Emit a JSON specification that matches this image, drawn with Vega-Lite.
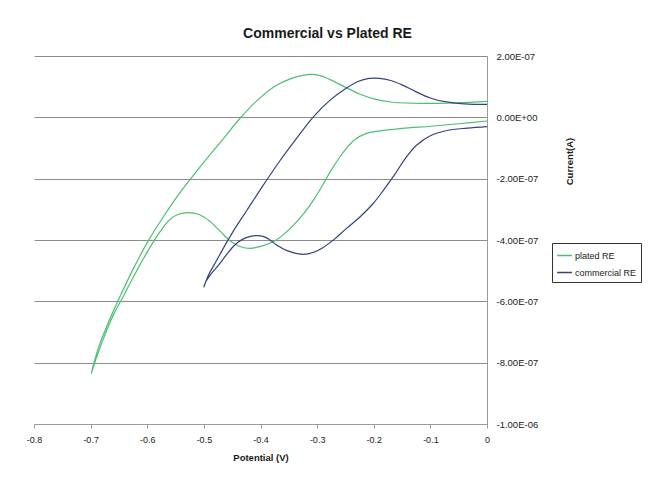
{
  "$schema": "https://vega.github.io/schema/vega-lite/v6.json",
  "width": 453,
  "height": 368,
  "autosize": {"type": "none"},
  "padding": {"left": 34, "top": 56, "right": 163, "bottom": 63},
  "background": "white",
  "title": {
    "text": "Commercial vs Plated RE",
    "font": "Liberation Sans",
    "fontSize": 14,
    "fontWeight": "bold",
    "color": "#1a1a1a",
    "anchor": "middle",
    "frame": "group",
    "dx": 67,
    "offset": 10
  },
  "data": {
    "values": [
      {"s": "plated RE", "i": 1, "E": 0, "I": 5.2e-8},
      {"s": "plated RE", "i": 2, "E": -0.071, "I": 4.6e-8},
      {"s": "plated RE", "i": 3, "E": -0.131, "I": 4.6e-8},
      {"s": "plated RE", "i": 4, "E": -0.170, "I": 5.0e-8},
      {"s": "plated RE", "i": 5, "E": -0.200, "I": 6.0e-8},
      {"s": "plated RE", "i": 6, "E": -0.225, "I": 7.6e-8},
      {"s": "plated RE", "i": 7, "E": -0.250, "I": 9.8e-8},
      {"s": "plated RE", "i": 8, "E": -0.277, "I": 1.23e-7},
      {"s": "plated RE", "i": 9, "E": -0.295, "I": 1.36e-7},
      {"s": "plated RE", "i": 10, "E": -0.310, "I": 1.40e-7},
      {"s": "plated RE", "i": 11, "E": -0.325, "I": 1.37e-7},
      {"s": "plated RE", "i": 12, "E": -0.345, "I": 1.27e-7},
      {"s": "plated RE", "i": 13, "E": -0.370, "I": 1.06e-7},
      {"s": "plated RE", "i": 14, "E": -0.400, "I": 6.5e-8},
      {"s": "plated RE", "i": 15, "E": -0.436, "I": -3e-9},
      {"s": "plated RE", "i": 16, "E": -0.471, "I": -8.2e-8},
      {"s": "plated RE", "i": 17, "E": -0.506, "I": -1.60e-7},
      {"s": "plated RE", "i": 18, "E": -0.540, "I": -2.40e-7},
      {"s": "plated RE", "i": 19, "E": -0.570, "I": -3.20e-7},
      {"s": "plated RE", "i": 20, "E": -0.598, "I": -4.02e-7},
      {"s": "plated RE", "i": 21, "E": -0.625, "I": -4.95e-7},
      {"s": "plated RE", "i": 22, "E": -0.651, "I": -5.96e-7},
      {"s": "plated RE", "i": 23, "E": -0.670, "I": -6.75e-7},
      {"s": "plated RE", "i": 24, "E": -0.686, "I": -7.5e-7},
      {"s": "plated RE", "i": 25, "E": -0.699, "I": -8.36e-7},
      {"s": "plated RE", "i": 26, "E": -0.690, "I": -7.85e-7},
      {"s": "plated RE", "i": 27, "E": -0.677, "I": -7.2e-7},
      {"s": "plated RE", "i": 28, "E": -0.660, "I": -6.45e-7},
      {"s": "plated RE", "i": 29, "E": -0.644, "I": -5.9e-7},
      {"s": "plated RE", "i": 30, "E": -0.620, "I": -5.05e-7},
      {"s": "plated RE", "i": 31, "E": -0.598, "I": -4.33e-7},
      {"s": "plated RE", "i": 32, "E": -0.577, "I": -3.72e-7},
      {"s": "plated RE", "i": 33, "E": -0.560, "I": -3.33e-7},
      {"s": "plated RE", "i": 34, "E": -0.545, "I": -3.16e-7},
      {"s": "plated RE", "i": 35, "E": -0.528, "I": -3.11e-7},
      {"s": "plated RE", "i": 36, "E": -0.510, "I": -3.16e-7},
      {"s": "plated RE", "i": 37, "E": -0.490, "I": -3.38e-7},
      {"s": "plated RE", "i": 38, "E": -0.471, "I": -3.72e-7},
      {"s": "plated RE", "i": 39, "E": -0.452, "I": -4.05e-7},
      {"s": "plated RE", "i": 40, "E": -0.435, "I": -4.22e-7},
      {"s": "plated RE", "i": 41, "E": -0.418, "I": -4.27e-7},
      {"s": "plated RE", "i": 42, "E": -0.398, "I": -4.20e-7},
      {"s": "plated RE", "i": 43, "E": -0.377, "I": -4.05e-7},
      {"s": "plated RE", "i": 44, "E": -0.358, "I": -3.80e-7},
      {"s": "plated RE", "i": 45, "E": -0.340, "I": -3.48e-7},
      {"s": "plated RE", "i": 46, "E": -0.322, "I": -3.10e-7},
      {"s": "plated RE", "i": 47, "E": -0.305, "I": -2.66e-7},
      {"s": "plated RE", "i": 48, "E": -0.290, "I": -2.20e-7},
      {"s": "plated RE", "i": 49, "E": -0.277, "I": -1.78e-7},
      {"s": "plated RE", "i": 50, "E": -0.262, "I": -1.35e-7},
      {"s": "plated RE", "i": 51, "E": -0.247, "I": -9.8e-8},
      {"s": "plated RE", "i": 52, "E": -0.233, "I": -7.2e-8},
      {"s": "plated RE", "i": 53, "E": -0.215, "I": -5.4e-8},
      {"s": "plated RE", "i": 54, "E": -0.189, "I": -4.4e-8},
      {"s": "plated RE", "i": 55, "E": -0.150, "I": -3.6e-8},
      {"s": "plated RE", "i": 56, "E": -0.100, "I": -2.9e-8},
      {"s": "plated RE", "i": 57, "E": -0.050, "I": -2.1e-8},
      {"s": "plated RE", "i": 58, "E": 0, "I": -1.2e-8},
      {"s": "commercial RE", "i": 1, "E": 0, "I": 4.2e-8},
      {"s": "commercial RE", "i": 2, "E": -0.040, "I": 4.4e-8},
      {"s": "commercial RE", "i": 3, "E": -0.075, "I": 5.1e-8},
      {"s": "commercial RE", "i": 4, "E": -0.100, "I": 6.3e-8},
      {"s": "commercial RE", "i": 5, "E": -0.125, "I": 8.3e-8},
      {"s": "commercial RE", "i": 6, "E": -0.150, "I": 1.06e-7},
      {"s": "commercial RE", "i": 7, "E": -0.170, "I": 1.20e-7},
      {"s": "commercial RE", "i": 8, "E": -0.190, "I": 1.27e-7},
      {"s": "commercial RE", "i": 9, "E": -0.208, "I": 1.27e-7},
      {"s": "commercial RE", "i": 10, "E": -0.228, "I": 1.17e-7},
      {"s": "commercial RE", "i": 11, "E": -0.250, "I": 9.3e-8},
      {"s": "commercial RE", "i": 12, "E": -0.277, "I": 5.6e-8},
      {"s": "commercial RE", "i": 13, "E": -0.307, "I": 1e-9},
      {"s": "commercial RE", "i": 14, "E": -0.336, "I": -6.8e-8},
      {"s": "commercial RE", "i": 15, "E": -0.365, "I": -1.40e-7},
      {"s": "commercial RE", "i": 16, "E": -0.395, "I": -2.21e-7},
      {"s": "commercial RE", "i": 17, "E": -0.424, "I": -3.03e-7},
      {"s": "commercial RE", "i": 18, "E": -0.445, "I": -3.62e-7},
      {"s": "commercial RE", "i": 19, "E": -0.462, "I": -4.15e-7},
      {"s": "commercial RE", "i": 20, "E": -0.480, "I": -4.75e-7},
      {"s": "commercial RE", "i": 21, "E": -0.492, "I": -5.15e-7},
      {"s": "commercial RE", "i": 22, "E": -0.500, "I": -5.53e-7},
      {"s": "commercial RE", "i": 23, "E": -0.497, "I": -5.38e-7},
      {"s": "commercial RE", "i": 24, "E": -0.488, "I": -5.12e-7},
      {"s": "commercial RE", "i": 25, "E": -0.474, "I": -4.82e-7},
      {"s": "commercial RE", "i": 26, "E": -0.460, "I": -4.48e-7},
      {"s": "commercial RE", "i": 27, "E": -0.446, "I": -4.17e-7},
      {"s": "commercial RE", "i": 28, "E": -0.432, "I": -3.98e-7},
      {"s": "commercial RE", "i": 29, "E": -0.418, "I": -3.88e-7},
      {"s": "commercial RE", "i": 30, "E": -0.403, "I": -3.86e-7},
      {"s": "commercial RE", "i": 31, "E": -0.389, "I": -3.93e-7},
      {"s": "commercial RE", "i": 32, "E": -0.371, "I": -4.17e-7},
      {"s": "commercial RE", "i": 33, "E": -0.348, "I": -4.38e-7},
      {"s": "commercial RE", "i": 34, "E": -0.324, "I": -4.47e-7},
      {"s": "commercial RE", "i": 35, "E": -0.306, "I": -4.40e-7},
      {"s": "commercial RE", "i": 36, "E": -0.290, "I": -4.25e-7},
      {"s": "commercial RE", "i": 37, "E": -0.270, "I": -3.98e-7},
      {"s": "commercial RE", "i": 38, "E": -0.248, "I": -3.62e-7},
      {"s": "commercial RE", "i": 39, "E": -0.224, "I": -3.24e-7},
      {"s": "commercial RE", "i": 40, "E": -0.201, "I": -2.81e-7},
      {"s": "commercial RE", "i": 41, "E": -0.183, "I": -2.38e-7},
      {"s": "commercial RE", "i": 42, "E": -0.165, "I": -1.92e-7},
      {"s": "commercial RE", "i": 43, "E": -0.145, "I": -1.36e-7},
      {"s": "commercial RE", "i": 44, "E": -0.125, "I": -9.2e-8},
      {"s": "commercial RE", "i": 45, "E": -0.100, "I": -6.0e-8},
      {"s": "commercial RE", "i": 46, "E": -0.071, "I": -4.3e-8},
      {"s": "commercial RE", "i": 47, "E": -0.035, "I": -3.5e-8},
      {"s": "commercial RE", "i": 48, "E": 0, "I": -3.0e-8}
    ]
  },
  "mark": {"type": "line", "strokeWidth": 1.2, "interpolate": "catmull-rom", "clip": true},
  "encoding": {
    "x": {
      "field": "E",
      "type": "quantitative",
      "scale": {"domain": [-0.8, 0], "nice": false, "zero": false},
      "axis": {
        "title": "Potential (V)",
        "values": [-0.8, -0.7, -0.6, -0.5, -0.4, -0.3, -0.2, -0.1, 0],
        "labelExpr": "datum.value == 0 ? '0' : toString(round(datum.value * 10) / 10)",
        "grid": false,
        "domainColor": "#9a9a9a",
        "tickColor": "#9a9a9a",
        "tickSize": 4,
        "labelFont": "Liberation Sans",
        "labelFontSize": 9,
        "labelColor": "#1a1a1a",
        "labelPadding": 7,
        "labelFlush": false,
        "titleFont": "Liberation Sans",
        "titleFontSize": 9.5,
        "titleFontWeight": "bold",
        "titleColor": "#1a1a1a",
        "titlePadding": 8
      }
    },
    "y": {
      "field": "I",
      "type": "quantitative",
      "scale": {"domain": [-1e-6, 2e-7], "nice": false, "zero": false},
      "axis": {
        "orient": "right",
        "title": "Current(A)",
        "values": [-1e-6, -8e-7, -6e-7, -4e-7, -2e-7, 0, 2e-7],
        "labelExpr": "datum.value == 0 ? '0.00E+00' : (datum.value < 0 ? '-' : '') + format(abs(datum.value) / pow(10, floor(log(abs(datum.value)) / LN10 + 1e-9)), '.2f') + 'E' + (floor(log(abs(datum.value)) / LN10 + 1e-9) < 0 ? '-' : '+') + format(abs(floor(log(abs(datum.value)) / LN10 + 1e-9)), '02d')",
        "grid": true,
        "gridColor": "#8c8c8c",
        "gridWidth": 1,
        "domainColor": "#9a9a9a",
        "ticks": false,
        "labelAlign": "left",
        "labelPadding": 9,
        "labelFont": "Liberation Sans",
        "labelFontSize": 9.5,
        "labelColor": "#1a1a1a",
        "titleFont": "Liberation Sans",
        "titleFontSize": 9.5,
        "titleFontWeight": "bold",
        "titleColor": "#1a1a1a",
        "titleAngle": 270,
        "titleAlign": "center",
        "titleBaseline": "middle",
        "titleX": 82,
        "titleY": 105
      }
    },
    "color": {
      "field": "s",
      "type": "nominal",
      "scale": {"domain": ["plated RE", "commercial RE"], "range": ["#4dbf72", "#34437c"]},
      "legend": {
        "title": null,
        "orient": "none",
        "legendX": 518,
        "legendY": 187,
        "symbolType": "stroke",
        "symbolSize": 220,
        "symbolStrokeWidth": 1.5,
        "labelFont": "Liberation Sans",
        "labelFontSize": 9,
        "labelColor": "#1a1a1a",
        "labelOffset": 2,
        "strokeColor": "#333333",
        "padding": 4,
        "rowPadding": 3,
        "fillColor": "white"
      }
    },
    "order": {"field": "i", "type": "quantitative"}
  },
  "config": {
    "view": {"stroke": null}
  }
}
